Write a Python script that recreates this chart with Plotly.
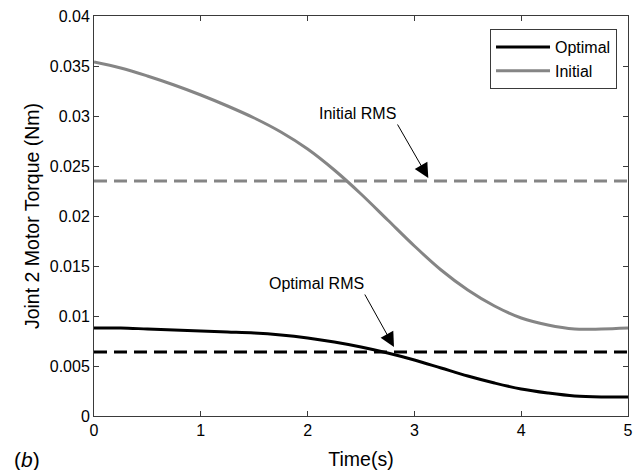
import plotly.graph_objects as go

# Time samples (s)
time_s = [0.0, 0.25, 0.5, 0.75, 1.0, 1.25, 1.5, 1.75, 2.0, 2.25, 2.5,
          2.75, 3.0, 3.25, 3.5, 3.75, 4.0, 4.25, 4.5, 4.75, 5.0]

# Joint 2 motor torque (Nm)
torque_optimal = [0.0088, 0.0088, 0.0087, 0.0086, 0.0085, 0.0084, 0.0083,
                  0.0081, 0.0078, 0.0074, 0.0069, 0.0063, 0.0056, 0.0048,
                  0.0040, 0.0033, 0.0027, 0.0023, 0.0020, 0.0019, 0.0019]
torque_initial = [0.0354, 0.0348, 0.0340, 0.0331, 0.0321, 0.0310, 0.0298,
                  0.0284, 0.0267, 0.0246, 0.0222, 0.0196, 0.0170, 0.0146,
                  0.0126, 0.0110, 0.0098, 0.0091, 0.0087, 0.0087, 0.0088]

# RMS levels
rms_optimal = 0.0064
rms_initial = 0.0235

# Axis ticks
x_ticks = [0, 1, 2, 3, 4, 5]
y_ticks = [0, 0.005, 0.01, 0.015, 0.02, 0.025, 0.03, 0.035, 0.04]
y_tick_labels = ["0", "0.005", "0.01", "0.015", "0.02", "0.025", "0.03", "0.035", "0.04"]

FONT = "Liberation Sans, Arial, Helvetica, sans-serif"
GRAY = "#858585"
AXIS = "#3a3a3a"

fig = go.Figure()

fig.add_trace(go.Scatter(
    x=time_s, y=torque_optimal, mode="lines", name="Optimal",
    line=dict(color="black", width=3, shape="spline", smoothing=1.0),
))
fig.add_trace(go.Scatter(
    x=time_s, y=torque_initial, mode="lines", name="Initial",
    line=dict(color=GRAY, width=3, shape="spline", smoothing=1.0),
))

# Dashed RMS levels across the full time span
fig.add_trace(go.Scatter(
    x=[time_s[0], time_s[-1]], y=[rms_initial, rms_initial], mode="lines",
    line=dict(color=GRAY, width=3, dash="13px,7px"), showlegend=False,
))
fig.add_trace(go.Scatter(
    x=[time_s[0], time_s[-1]], y=[rms_optimal, rms_optimal], mode="lines",
    line=dict(color="black", width=3, dash="13px,7px"), showlegend=False,
))

# Labels with arrows pointing at the RMS lines
labels = [
    dict(text="Initial RMS", tx=2.47, ty=0.0303, ax=2.834, ay=0.0293, hx=3.13, hy=rms_initial + 0.0003),
    dict(text="Optimal RMS", tx=2.08, ty=0.0133, ax=2.528, ay=0.0123, hx=2.809, hy=rms_optimal + 0.0005),
]
for lab in labels:
    fig.add_annotation(x=lab["tx"], y=lab["ty"], xref="x", yref="y", text=lab["text"],
                       showarrow=False, font=dict(family=FONT, size=16, color="black"),
                       xanchor="center", yanchor="middle")
    fig.add_annotation(x=lab["hx"], y=lab["hy"], xref="x", yref="y", text="",
                       ax=lab["ax"], ay=lab["ay"], axref="x", ayref="y",
                       showarrow=True, arrowhead=2, arrowsize=2.9, arrowwidth=1,
                       arrowcolor="black")

fig.add_annotation(x=-0.126, y=-0.108, xref="paper", yref="paper", text="(<i>b</i>)",
                   showarrow=False, font=dict(family=FONT, size=21, color="black"),
                   xanchor="center", yanchor="middle")

axis_common = dict(
    showline=True, linecolor=AXIS, linewidth=1, mirror="ticks",
    ticks="inside", ticklen=5, tickcolor=AXIS, tickwidth=1,
    showgrid=False, zeroline=False, automargin=False,
    tickfont=dict(family=FONT, size=16, color="black"),
)

fig.update_layout(
    width=639, height=470,
    margin=dict(l=94, r=11, t=16, b=54),
    paper_bgcolor="white", plot_bgcolor="white",
    font=dict(family=FONT, color="black"),
    xaxis=dict(range=[0, 5], tickvals=x_ticks,
               title=dict(text="Time(s)", font=dict(family=FONT, size=19.5), standoff=14),
               **axis_common),
    yaxis=dict(range=[0, 0.04], tickvals=y_ticks, ticktext=y_tick_labels,
               title=dict(text="Joint 2 Motor Torque (Nm)", font=dict(family=FONT, size=19.5), standoff=4),
               **axis_common),
    legend=dict(x=0.7416, y=0.9675, xanchor="left", yanchor="top",
                bgcolor="white", bordercolor=AXIS, borderwidth=1,
                font=dict(family=FONT, size=16, color="black"),
                tracegroupgap=0, itemwidth=54),
    showlegend=True,
)

fig.write_html("out.html")
